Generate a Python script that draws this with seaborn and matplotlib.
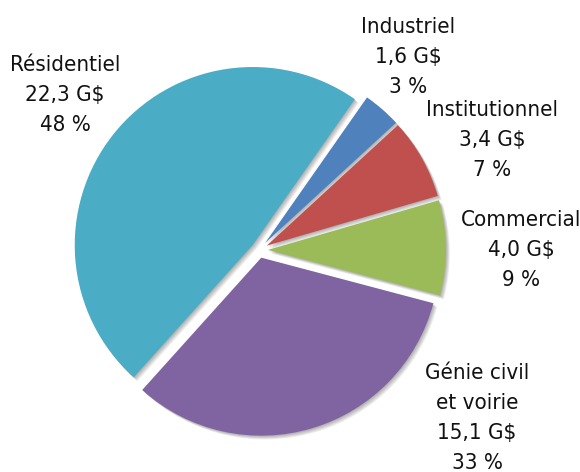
import matplotlib
matplotlib.use("Agg")
import matplotlib.pyplot as plt
from matplotlib import font_manager
from matplotlib.patches import Wedge
import seaborn as sns

# ---- data ----
categories = ["Industriel", "Institutionnel", "Commercial", "Génie civil\net voirie", "Résidentiel"]
values = [1.6, 3.4, 4.0, 15.1, 22.3]          # G$
percents = [3, 7, 9, 33, 48]                   # %
colors = ["#4F81BD", "#C0504D", "#9BBB59", "#8064A2", "#4BACC6"]

# ---- style / layout ----
sns.set_theme(style="white")

# pick a narrow font if one is installed
names = {f.name for f in font_manager.fontManager.ttflist}
narrow = None
for cand in ["Liberation Sans Narrow", "Arial Narrow"]:
    if cand in names:
        narrow = cand
        break
condensed_dejavu = any(("DejaVuSansCondensed" in f.fname) or
                       (f.name == "DejaVu Sans" and "ondensed" in str(f.stretch))
                       for f in font_manager.fontManager.ttflist)
if narrow:
    plt.rcParams['font.family'] = [narrow, 'DejaVu Sans']
    font_kw = dict(fontsize=18)
elif condensed_dejavu:
    plt.rcParams['font.family'] = ['DejaVu Sans']
    font_kw = dict(fontsize=16, fontstretch="condensed")
else:
    plt.rcParams['font.family'] = ['Liberation Sans', 'DejaVu Sans']
    font_kw = dict(fontsize=16)

W, H = 580, 472
fig = plt.figure(figsize=(W / 100, H / 100), dpi=100)
ax = fig.add_axes([0, 0, 1, 1])

cx, cy = 259, H - 250
R = 178
explode_px = [9, 9, 9, 8, 8]

wedges, _ = ax.pie(values, colors=sns.color_palette(colors), startangle=55,
                   counterclock=False, explode=explode_px, radius=R,
                   center=(cx, cy), wedgeprops=dict(linewidth=0))

# soft drop shadow
for w in wedges:
    x, y = w.center
    for k in range(1, 7):
        off = 0.65 * k
        sh = Wedge((x + off, y - off), w.r, w.theta1, w.theta2,
                   facecolor="black", alpha=0.055, linewidth=0, zorder=0.5)
        ax.add_patch(sh)

# labels (text block centres, image coordinates)
label_pos = [(408, 57), (492, 140), (521, 250), (477, 418), (65, 95)]
for cat, val, pct, (lx, ly) in zip(categories, values, percents, label_pos):
    txt = f"{cat}\n{val:.1f} G$\n{pct} %".replace(".", ",")
    ax.text(lx, H - ly, txt, ha="center", va="center",
            linespacing=1.62, color="#111111", **font_kw)

ax.set_xlim(0, W)
ax.set_ylim(0, H)
ax.set_aspect("equal")
ax.axis("off")
fig.savefig("out.png", dpi=100)
